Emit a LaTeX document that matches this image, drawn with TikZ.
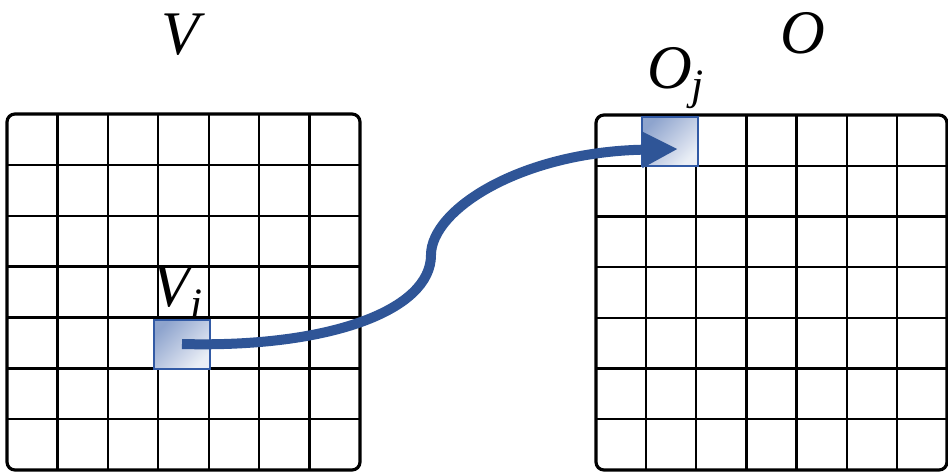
\documentclass[tikz,border=0pt]{standalone}
\usepackage{amsmath}
\usepackage{fontspec}
\setmainfont{Liberation Serif}
\usepackage{tikz}
\usetikzlibrary{positioning, arrows.meta}
\definecolor{mapblue}{RGB}{47,85,151}
\definecolor{cellblue}{RGB}{50,90,165}
\tikzset{
gridline/.style={
    draw=black,
    line width=1.2pt
},
frame/.style={
    draw=black,
    line width=1.6pt,
    rounded corners=4pt
},
cell/.style={
    draw=cellblue,
    line width=1pt,
    top color=cellblue!55,
    bottom color=cellblue!10,
    shading angle=45,
    minimum width=28pt,
    minimum height=24.5pt,
    inner sep=0pt
},
lbl/.style={
    font=\fontsize{31}{36}\selectfont\itshape,
    inner sep=0pt
}
}

\begin{document}
\begin{tikzpicture}[
    x=0.5pt, y=-0.5pt,
    >=Triangle
]
\useasboundingbox (0,0) rectangle (948,473);

% LEFT: GRID V
\foreach \k in {1,...,6} {
  \draw[gridline] ({7+\k*50.43},114) -- ({7+\k*50.43},470);
  \draw[gridline] (7,{114+\k*50.86}) -- (360,{114+\k*50.86});
}
\draw[frame] (7,114) rectangle (360,470);
\node[lbl] (vname) at (180,35) {V};

% RIGHT: GRID O
\foreach \k in {1,...,6} {
  \draw[gridline] ({596+\k*50.14},115) -- ({596+\k*50.14},470);
  \draw[gridline] (596,{115+\k*50.71}) -- (947,{115+\k*50.71});
}
\draw[frame] (596,115) rectangle (947,470);
\node[lbl] (oname) at (803,33) {O};

% CELLS
\node[cell] (vi) at (182,344) {};
\node[cell, minimum height=24.5pt] (oj) at (670,141) {};
\node[lbl, above=0pt of vi, xshift=-2pt] (vilbl) {$\text{\itshape V}_{\text{\itshape i}}$};
\node[lbl, above=3pt of oj, xshift=3pt] (ojlbl) {$\text{\itshape O}_{\text{\itshape j}}$};

% ARROW
\coordinate (tip) at (678,149);
\draw[->, mapblue, line width=5pt, >={Triangle[length=18pt, width=17pt]}]
  (vi.center) .. controls (330,348) and (431,310) .. (431,255)
  .. controls (431,210) and (520,152) .. (tip);

\end{tikzpicture}
\end{document}
